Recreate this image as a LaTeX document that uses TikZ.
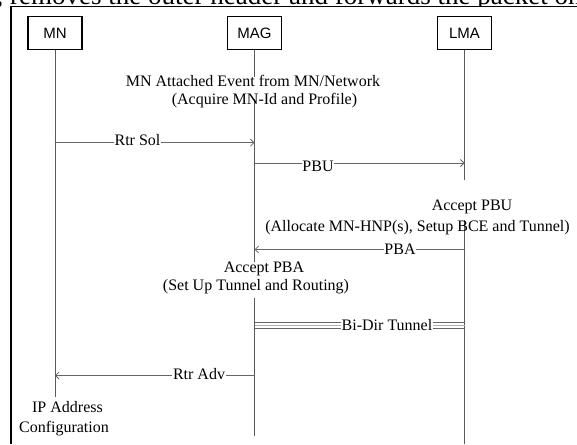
\documentclass[tikz,border=0pt]{standalone}
\usepackage{fontspec}
\setmainfont{Liberation Serif}
\newfontfamily\boxfont{Liberation Sans}
\usetikzlibrary{arrows.meta}
\tikzset{
  actor/.style={draw=black, line width=1.6pt, minimum width=54pt, minimum height=33pt, inner sep=0pt, font=\boxfont\fontsize{15}{18}\selectfont},
  note/.style={font=\fontsize{16}{19}\selectfont, inner sep=0pt, anchor=base},
  msglbl/.style={font=\fontsize{16}{19}\selectfont, inner sep=0.6pt, anchor=base, fill=white},
  life/.style={draw=black!65, line width=0.9pt},
  msg/.style={draw=black!60, line width=0.8pt, -{Straight Barb[length=3.5pt,width=7pt,line width=0.8pt]}},
  tun/.style={draw=black!60, line width=0.8pt},
  tunmid/.style={draw=black!30, line width=0.8pt},
}
\begin{document}
\begin{tikzpicture}[x=1pt,y=-1pt]
\useasboundingbox (0,0) rectangle (577,444);
% page fragment above the frame
\node[font=\fontsize{27}{30}\selectfont, inner sep=0pt, anchor=base west] (pagetext) at (-3.5,4.5) {, removes the outer header and forwards the packet on};
% frame
\fill[white] (0,6.6) rectangle (577,444);
\draw[line width=1pt] (11,7) -- (577,7);
\draw[line width=2pt] (11,6.5) -- (11,444);
% actors
\node[actor] (mn) at (55,33) {MN};
\node[actor] (mag) at (254.5,33) {MAG};
\node[actor] (lma) at (464.5,33) {LMA};
% lifelines
\draw[life] (mn.south) -- (mn.south |- 0,397);
\draw[life] (mag.south) -- (mag.south |- 0,77);
\draw[life] (mag.south |- 0,99) -- (mag.south |- 0,262);
\draw[life] (mag.south |- 0,298) -- (mag.south |- 0,436);
\draw[life] (lma.south) -- (lma.south |- 0,180);
\draw[life] (lma.south |- 0,220) -- (lma.south |- 0,444);
% notes
\node[note] (attach1) at (253,86) {MN Attached Event from MN/Network};
\node[note] (attach2) at (264.5,104) {(Acquire MN-Id and Profile)};
\node[note] (accpbu1) at (472,210.7) {Accept PBU};
\node[note] (accpbu2) at (417.5,231.5) {(Allocate MN-HNP(s), Setup BCE and Tunnel)};
\node[note] (accpba1) at (264,272) {Accept PBA};
\node[note] (accpba2) at (256,290) {(Set Up Tunnel and Routing)};
\node[note] (ipconf1) at (67.5,412) {IP Address};
\node[note] (ipconf2) at (64,432) {Configuration};
% messages
\coordinate (rs1) at (mn.south |- 0,142.7);
\coordinate (rs2) at (mag.south |- 0,142.7);
\draw[msg] (rs1) -- (rs2);
\node[msglbl] (rtrsol) at (137.5,145.3) {Rtr Sol};
\coordinate (pbu1) at (mag.south |- 0,163);
\coordinate (pbu2) at (lma.south |- 0,163);
\draw[msg] (pbu1) -- (pbu2);
\node[msglbl] (pbu) at (318,171.5) {PBU};
\coordinate (pba1) at (lma.south |- 0,249.5);
\coordinate (pba2) at (mag.south |- 0,249.5);
\draw[msg] (pba1) -- (pba2);
\node[msglbl] (pba) at (400,254.5) {PBA};
\coordinate (t1a) at (mag.south |- 0,322);
\coordinate (t1b) at (lma.south |- 0,322);
\coordinate (t2a) at (mag.south |- 0,325);
\coordinate (t2b) at (lma.south |- 0,325);
\coordinate (t3a) at (mag.south |- 0,328);
\coordinate (t3b) at (lma.south |- 0,328);
\draw[tun] (t1a) -- (t1b);
\draw[tunmid] (t2a) -- (t2b);
\draw[tun] (t3a) -- (t3b);
\node[msglbl] (tunnel) at (387,330) {Bi-Dir Tunnel};
\coordinate (ra1) at (mag.south |- 0,375.5);
\coordinate (ra2) at (mn.south |- 0,375.5);
\draw[msg] (ra1) -- (ra2);
\node[msglbl] (rtradv) at (199,379.5) {Rtr Adv};
\end{tikzpicture}
\end{document}
